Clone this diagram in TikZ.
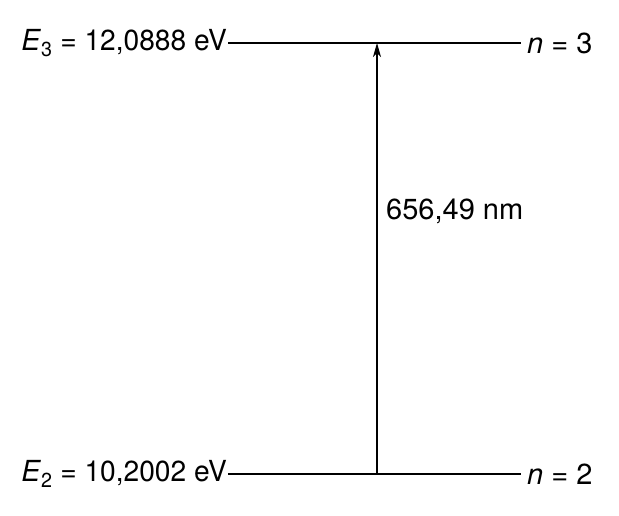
\documentclass[tikz,border=0pt]{standalone}
\usepackage{fontspec}
\setmainfont{TeX Gyre Heros}
\usetikzlibrary{arrows.meta}

\tikzset{
  level/.style={line width=1.6pt},
  lbl/.style={font=\fontsize{29}{34}\selectfont, inner sep=3pt},
}

\begin{document}
\begin{tikzpicture}[x=1pt,y=1pt]
            \useasboundingbox (0,0) rectangle (619,516);

            % energy levels
            \coordinate (e3l) at (228,473);
            \coordinate (e3r) at (521,473);
            \coordinate (e2l) at (228,42);
            \coordinate (e2r) at (521,42);
            \draw[level] (e3l) -- (e3r);
            \draw[level] (e2l) -- (e2r);

            \node[lbl,anchor=east,xshift=2pt,xscale=0.97] (E3) at (e3l) {\textit{E}\textsubscript{3} = 12,0888 eV};
            \node[lbl,anchor=east,xshift=2pt,xscale=0.97] (E2) at (e2l) {\textit{E}\textsubscript{2} = 10,2002 eV};
            \node[lbl,anchor=west,xshift=3pt] (n3) at (e3r) {\textit{n} = 3};
            \node[lbl,anchor=west,xshift=3pt] (n2) at (e2r) {\textit{n} = 2};

            % transition
            \coordinate (t2) at (377,42);
            \coordinate (t3) at (377,473);
            \draw[line width=1.1pt,-{Stealth[length=14pt,width=8pt,inset=4pt]}] (t2) -- (t3);
            \node[lbl,anchor=west] (lam) at (383,305) {656,49 nm};
\end{tikzpicture}
\end{document}
